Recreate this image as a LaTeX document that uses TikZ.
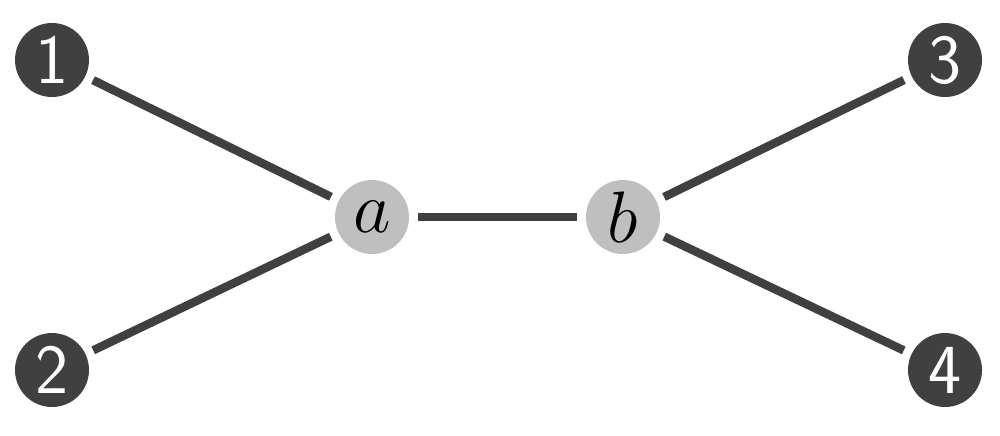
\documentclass[tikz,border=0pt]{standalone}
\usepackage{amsmath,amssymb}
\usepackage{tikz}

\definecolor{leafgray}{HTML}{404040}
\definecolor{innergray}{HTML}{BFBFBF}

\tikzset{
  leaf/.style={circle, fill=leafgray, minimum size=0.74cm, inner sep=0pt,
    text=white, font=\fontsize{20}{20}\selectfont\sffamily},
  inner/.style={circle, fill=innergray, minimum size=0.74cm, inner sep=0pt,
    text=black, font=\fontsize{21}{21}\selectfont},
  edge/.style={draw=leafgray, line width=2.4pt, shorten <=0.08cm, shorten >=0.08cm}
}

\begin{document}
\begin{tikzpicture}
\useasboundingbox (0,0) rectangle (10,4.35);
\node[leaf] (n1) at (0.52, 3.75) {1};
\node[leaf] (n2) at (0.52, 0.65) {2};
\node[leaf] (n3) at (9.45, 3.75) {3};
\node[leaf] (n4) at (9.45, 0.65) {4};
\node[inner] (a) at (3.72, 2.18) {$a$};
\node[inner] (b) at (6.23, 2.18) {$b$};
\draw[edge] (n1) -- (a);
\draw[edge] (n2) -- (a);
\draw[edge] (a) -- (b);
\draw[edge] (b) -- (n3);
\draw[edge] (b) -- (n4);
\end{tikzpicture}
\end{document}
